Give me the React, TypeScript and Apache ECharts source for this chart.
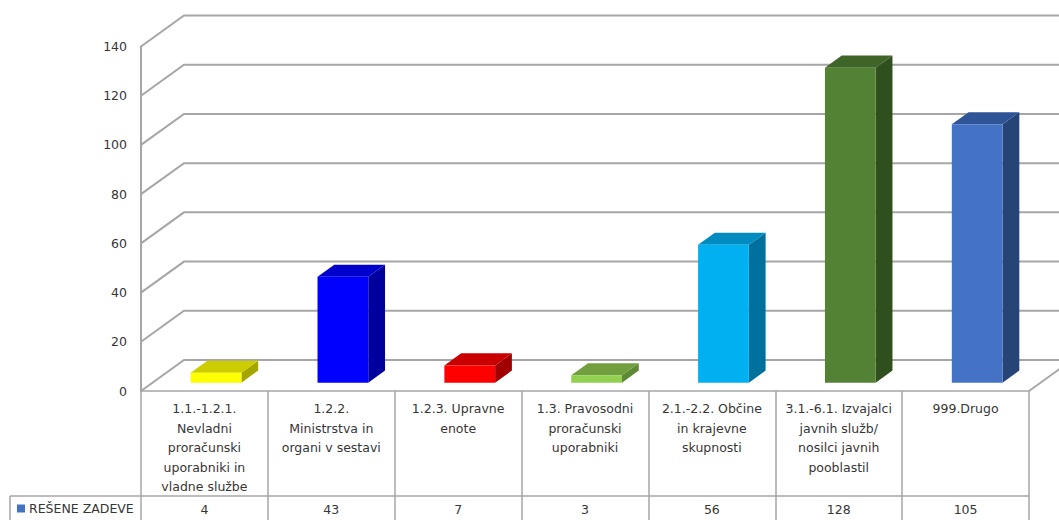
import React, { useEffect, useRef } from "react";
import * as echarts from "echarts";

const categories: string[] = [
  "1.1.-1.2.1.\nNevladni\nproračunski\nuporabniki in\nvladne službe",
  "1.2.2.\nMinistrstva in\norgani v sestavi",
  "1.2.3. Upravne\nenote",
  "1.3. Pravosodni\nproračunski\nuporabniki",
  "2.1.-2.2. Občine\nin krajevne\nskupnosti",
  "3.1.-6.1. Izvajalci\njavnih služb/\nnosilci javnih\npooblastil",
  "999.Drugo",
];
const seriesName = "REŠENE ZADEVE";
const values: number[] = [4, 43, 7, 3, 56, 128, 105];
const yTicks: number[] = [0, 20, 40, 60, 80, 100, 120, 140];

const frontColors = ["#FFFF00", "#0000FF", "#FF0000", "#92D050", "#00B0F0", "#548235", "#4472C4"];
const topColors = ["#CCCC00", "#0000CC", "#C80000", "#729F3E", "#008CC0", "#3F6428", "#2F5597"];
const sideColors = ["#A5A500", "#00009E", "#A00000", "#5E8A33", "#00709C", "#2F4F1F", "#264478"];

const FONT = "DejaVu Sans";
const LINE = "#A6A6A6";
const TEXT = "#363636";
const WALL_DX = 43;
const WALL_DY = 31;

export default function App() {
  const ref = useRef<HTMLDivElement>(null);
  useEffect(() => {
    if (!ref.current) return;
    const chart = echarts.init(ref.current, null, { renderer: "svg" });
    const option: any = {
      animation: false,
      backgroundColor: "#ffffff",
      grid: { left: 141, right: 30, top: 46.5, bottom: 129, containLabel: false },
      legend: {
        show: true,
        left: 17,
        top: 502,
        padding: 0,
        icon: "rect",
        itemWidth: 8,
        itemHeight: 8,
        itemGap: 5,
        data: [seriesName],
        textStyle: { color: TEXT, fontSize: 12.5, fontFamily: FONT, padding: [0, 0, 0, -1] },
      },
      xAxis: {
        type: "category",
        data: categories,
        axisLine: { show: true, lineStyle: { color: LINE, width: 1.5 } },
        axisTick: { show: true, length: 129, lineStyle: { color: LINE, width: 1.5 } },
        axisLabel: {
          interval: 0,
          margin: 8,
          color: TEXT,
          fontSize: 12.5,
          fontFamily: FONT,
          lineHeight: 19.5,
          align: "center",
        },
        splitLine: { show: false },
      },
      yAxis: {
        type: "value",
        min: 0,
        max: 140,
        interval: 20,
        axisLine: { show: true, lineStyle: { color: LINE, width: 2 } },
        axisTick: { show: false },
        splitLine: { show: false },
        axisLabel: {
          margin: 14,
          color: TEXT,
          fontSize: 12.5,
          fontFamily: FONT,
          padding: [4, 0, 0, 0],
        },
      },
      graphic: [
        { type: "line", shape: { x1: 10, y1: 496, x2: 1029, y2: 496 }, style: { stroke: LINE, lineWidth: 1.5 } },
        { type: "line", shape: { x1: 10, y1: 496, x2: 10, y2: 520 }, style: { stroke: LINE, lineWidth: 1.5 } },
      ],
      series: [
        {
          type: "custom",
          name: "walls",
          silent: true,
          z: 1,
          clip: false,
          data: yTicks.map((t) => [0, t]),
          renderItem: (params: any, api: any) => {
            const v = api.value(1);
            const y = api.coord([0, v])[1];
            const cs = params.coordSys;
            const x0 = cs.x;
            const x1 = cs.x + cs.width;
            const children: any[] = [
              {
                type: "polyline",
                shape: {
                  points: [
                    [x0, y],
                    [x0 + WALL_DX, y - WALL_DY],
                    [x1 + WALL_DX + 60, y - WALL_DY],
                  ],
                },
                style: { stroke: LINE, lineWidth: 2, fill: "none" },
              },
            ];
            if (v === 0) {
              children.push({
                type: "line",
                shape: { x1: x1, y1: y, x2: x1 + WALL_DX, y2: y - WALL_DY },
                style: { stroke: LINE, lineWidth: 2 },
              });
            }
            return { type: "group", children };
          },
        },
        {
          type: "custom",
          name: seriesName,
          z: 3,
          clip: false,
          itemStyle: { color: "#4472C4" },
          data: values.map((v, i) => [i, v]),
          renderItem: (params: any, api: any) => {
            const i = api.value(0);
            const v = api.value(1);
            const [cx, yTop] = api.coord([i, v]);
            const yBase = api.coord([i, 0])[1];
            const band = api.size([1, 0])[0];
            const w = band * 0.4;
            const ox = WALL_DX * 0.27;
            const oy = WALL_DY * 0.27;
            const dx = WALL_DX * 0.39;
            const dy = WALL_DY * 0.39;
            const fx = cx - w / 2 + ox;
            const fy = yTop - oy;
            const h = yBase - yTop;
            return {
              type: "group",
              children: [
                {
                  type: "polygon",
                  shape: {
                    points: [
                      [fx + w, fy],
                      [fx + w + dx, fy - dy],
                      [fx + w + dx, fy + h - dy],
                      [fx + w, fy + h],
                    ],
                  },
                  style: { fill: sideColors[i] },
                },
                {
                  type: "polygon",
                  shape: {
                    points: [
                      [fx, fy],
                      [fx + dx, fy - dy],
                      [fx + w + dx, fy - dy],
                      [fx + w, fy],
                    ],
                  },
                  style: { fill: topColors[i] },
                },
                {
                  type: "rect",
                  shape: { x: fx, y: fy, width: w, height: h },
                  style: { fill: frontColors[i] },
                },
                {
                  type: "text",
                  x: cx,
                  y: 509.5,
                  style: {
                    text: String(v),
                    fill: TEXT,
                    font: `12.5px "${FONT}"`,
                    align: "center",
                    verticalAlign: "middle",
                  },
                },
              ],
            };
          },
        },
      ],
    };
    chart.setOption(option);
    return () => chart.dispose();
  }, []);
  return (
    <div
      ref={ref}
      style={{ position: "fixed", left: 0, top: 0, width: 1059, height: 520, background: "#fff" }}
    />
  );
}
